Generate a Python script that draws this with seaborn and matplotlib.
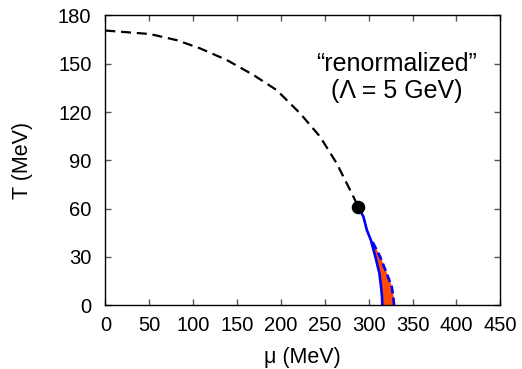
import matplotlib
matplotlib.use("Agg")
import matplotlib.pyplot as plt
import seaborn as sns
import pandas as pd

# crossover (dashed) line
mu_cross = [0.0, 1.6, 50.9, 81.3, 107.9, 138.3, 168.6, 195.2, 221.8, 244.6, 263.6, 278.8, 288.2]
T_cross = [170.6, 170.5, 168.4, 164.6, 159.5, 152.3, 143.0, 133.6, 119.2, 104.7, 88.1, 71.6, 61.2]

# critical end point
mu_cep = [288.2]
T_cep = [61.2]

# first-order / spinodal boundaries (common T grid)
T_grid = [0, 5.3, 11.5, 19.9, 30.2, 40.5]
mu_left = [315.6, 315.2, 314.1, 312.2, 307.6, 302.5]
mu_right = [329.0, 328.0, 326.3, 320.5, 313.0, 303.4]

# upper part of the solid blue line
T_upper = [40.5, 46.6, 55.0, 61.2]
mu_upper = [302.5, 298.0, 294.0, 288.2]

xticks = [0, 50, 100, 150, 200, 250, 300, 350, 400, 450]
yticks = [0, 30, 60, 90, 120, 150, 180]

sns.set_theme(style="white")
plt.rcParams['font.family'] = ['Liberation Sans', 'DejaVu Sans']
plt.rcParams['text.color'] = 'black'
plt.rcParams['axes.labelcolor'] = 'black'
plt.rcParams['xtick.color'] = 'black'
plt.rcParams['ytick.color'] = 'black'

fig = plt.figure(figsize=(5.22, 3.69), dpi=100)
ax = fig.add_axes([0.2018, 0.1726, 0.7567, 0.7858])

df_cross = pd.DataFrame({"mu": mu_cross, "T": T_cross})
sns.lineplot(data=df_cross, x="mu", y="T", ax=ax, color="black", lw=1.6,
             sort=False, estimator=None)
ax.lines[-1].set_dashes((4.5, 2.6))

ax.fill_betweenx(T_grid, mu_left, mu_right, color="#FF4A00", lw=0)

left_mu_all = mu_left + mu_upper[1:]
left_T_all = T_grid + T_upper[1:]
df_left = pd.DataFrame({"mu": left_mu_all, "T": left_T_all})
sns.lineplot(data=df_left, x="mu", y="T", ax=ax, color="#0000FF", lw=1.9,
             sort=False, estimator=None)
df_right = pd.DataFrame({"mu": mu_right, "T": T_grid})
sns.lineplot(data=df_right, x="mu", y="T", ax=ax, color="#0000FF", lw=1.9,
             sort=False, estimator=None)
ax.lines[-1].set_dashes((3, 1.5))

sns.scatterplot(x=mu_cep, y=T_cep, ax=ax, color="black", s=95, zorder=5,
                edgecolor="black", linewidth=0)

ax.set_xlim(0, 450)
ax.set_ylim(0, 180)
ax.set_xticks(xticks)
ax.set_yticks(yticks)
ax.set_xticklabels([str(v) for v in xticks])
ax.set_yticklabels([str(v) for v in yticks])
ax.tick_params(direction="in", length=4, width=1,
               top=True, right=True, bottom=True, left=True,
               labelsize=14.5, labelcolor="black")
ax.tick_params(color="#555555")
ax.tick_params(axis="y", pad=10)
ax.tick_params(axis="x", pad=8)
for s in ax.spines.values():
    s.set_color("black")
    s.set_linewidth(1.0)

ax.set_xlabel("μ (MeV)", fontsize=15.5, labelpad=8, color="black")
ax.set_ylabel("T (MeV)", fontsize=15.5, labelpad=18, color="black")

ax.text(0.738, 0.787, "\u201crenormalized\u201d\n(\u039b = 5 GeV)", transform=ax.transAxes,
        ha="center", va="center", fontsize=18, linespacing=1.15, color="black")

fig.savefig("out.png", dpi=100)
